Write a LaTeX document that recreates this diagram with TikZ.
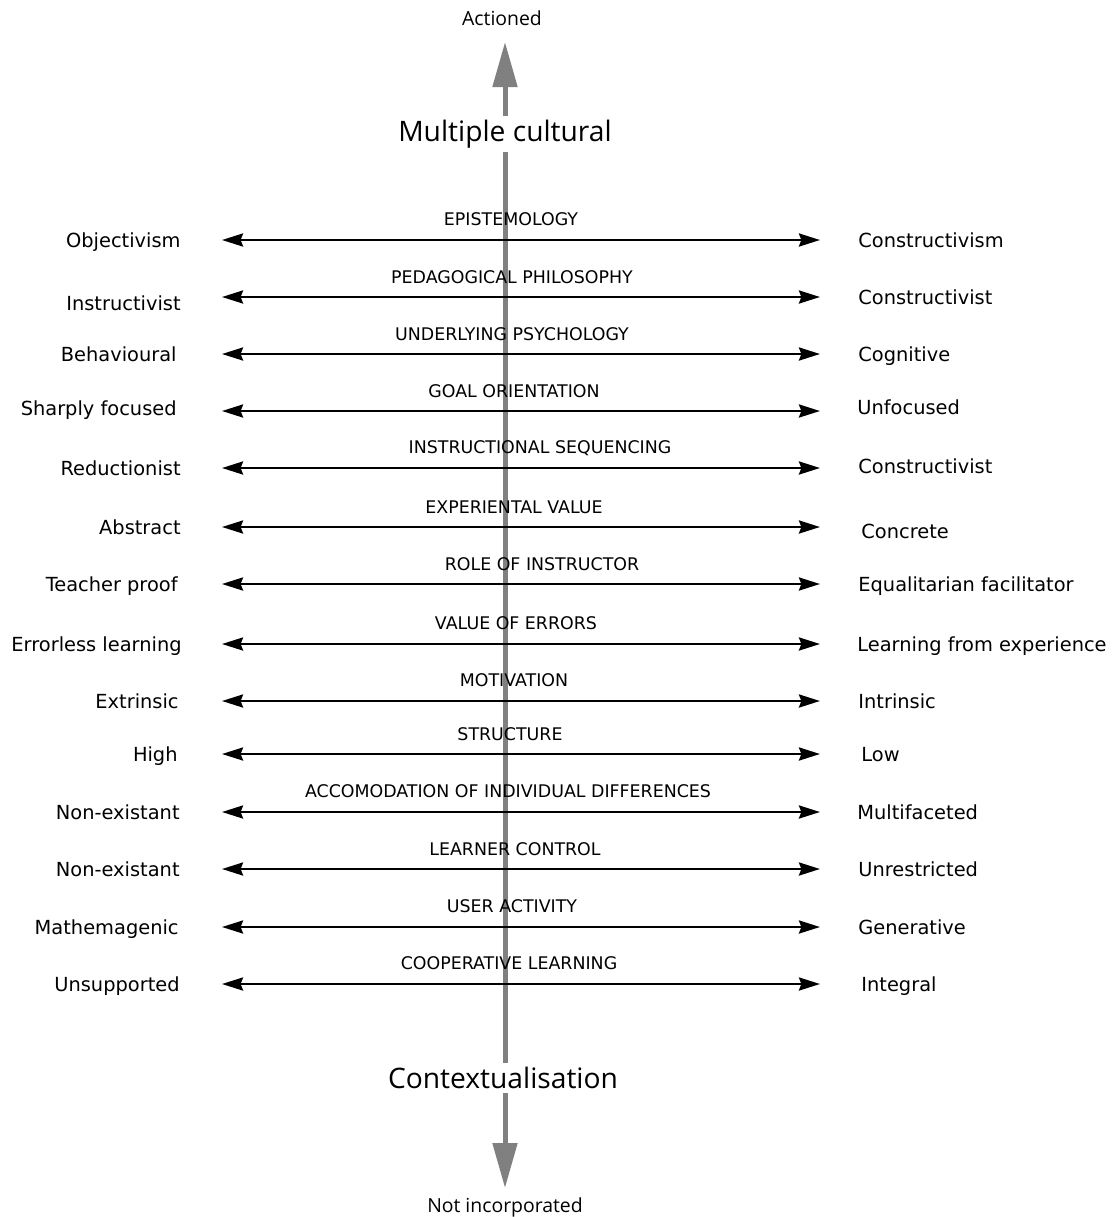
\documentclass[tikz,border=0pt]{standalone}
\usepackage{fontspec}
\setmainfont{DejaVu Sans}
\newfontfamily\titlefont{Open Sans}
\usetikzlibrary{arrows.meta}
\definecolor{axisgray}{HTML}{808080}
\tikzset{
  x=0.5pt, y=-0.5pt,
  axis/.style={draw=axisgray, line width=2.5pt,
    {Triangle[length=22.5pt,width=12pt]}-{Triangle[length=22.5pt,width=12pt]}},
  scale arrow/.style={draw=black, line width=1.35pt,
    {Stealth[length=10.5pt,width=6.5pt,inset=1.2pt]}-{Stealth[length=10.5pt,width=6.5pt,inset=1.2pt]}},
  dimname/.style={font=\fontsize{8.7}{10}\selectfont, inner sep=0pt, yshift=-0.5pt},
  leftpole/.style={font=\fontsize{9.7}{11}\selectfont, inner sep=0pt, anchor=mid east, yshift=-1pt},
  rightpole/.style={font=\fontsize{9.7}{11}\selectfont, inner sep=0pt, anchor=mid west, yshift=-1pt},
  axistitle/.style={font=\titlefont\fontsize{14.1}{16}\selectfont, fill=white, inner sep=2pt},
  axisend/.style={font=\titlefont\fontsize{9.7}{11}\selectfont, inner sep=0pt},
}
\begin{document}
\begin{tikzpicture}
\clip (0,0) rectangle (1114,1217);
\fill[white] (0,0) rectangle (1114,1217);

% vertical axis: actioned / not incorporated
\coordinate (axtop) at (505,42);
\coordinate (axbot) at (505,1188);
\draw[axis] (axbot) -- (axtop);
\node[axisend] (actioned) at (502,18) {Actioned};
\node[axisend] (notinc) at (505,1207) {Not incorporated};
\node[axistitle] (multi) at (505,134) {Multiple cultural};
\node[axistitle] (context) at (503,1078) {Contextualisation};

% the fourteen dimensions
\foreach \i/\y/\t/\tx/\ty/\l/\lx/\ly/\r/\rx/\ry in {
  1/240/EPISTEMOLOGY/511/218/Objectivism/181/240/Constructivism/858/240,
  2/297/PEDAGOGICAL PHILOSOPHY/512/276/Instructivist/181/303/Constructivist/858/297,
  3/354/UNDERLYING PSYCHOLOGY/512/333/Behavioural/177/354/Cognitive/858/354,
  4/411/GOAL ORIENTATION/514/390/Sharply focused/177/408/Unfocused/857/407,
  5/468/INSTRUCTIONAL SEQUENCING/540/447/Reductionist/181/468/Constructivist/858/466,
  6/527/EXPERIENTAL VALUE/514/506/Abstract/181/527/Concrete/861/531,
  7/584/ROLE OF INSTRUCTOR/542/563/Teacher proof/178/584/Equalitarian facilitator/858/584,
  8/644/VALUE OF ERRORS/516/622/Errorless learning/182/644/Learning from experience/857/644,
  9/701/MOTIVATION/514/679/Extrinsic/179/701/Intrinsic/858/701,
  10/754/STRUCTURE/510/733/High/178/754/Low/861/754,
  11/812/ACCOMODATION OF INDIVIDUAL DIFFERENCES/508/790/Non-existant/180/812/Multifaceted/857/812,
  12/869/LEARNER CONTROL/515/848/Non-existant/180/869/Unrestricted/858/869,
  13/927/USER ACTIVITY/512/905/Mathemagenic/179/927/Generative/858/927,
  14/984/COOPERATIVE LEARNING/509/962/Unsupported/180/984/Integral/861/984}
{
  \coordinate (la\i) at (222,\y);
  \coordinate (ra\i) at (820,\y);
  \draw[scale arrow] (la\i) -- (ra\i);
  \node[dimname] (dim\i) at (\tx,\ty) {\t};
  \node[leftpole] (lp\i) at (\lx,\ly) {\l};
  \node[rightpole] (rp\i) at (\rx,\ry) {\r};
}
\end{tikzpicture}
\end{document}
